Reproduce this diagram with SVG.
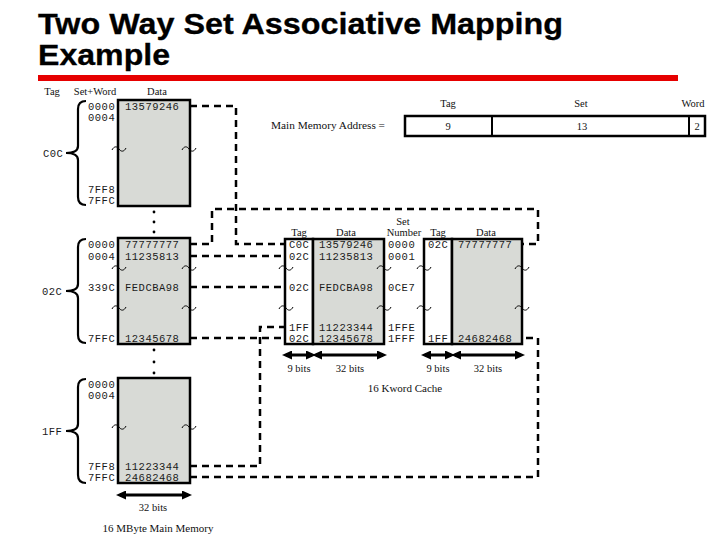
<svg xmlns="http://www.w3.org/2000/svg" width="720" height="540" viewBox="0 0 720 540">
<style>
.title{font-family:"Liberation Sans",Arial,sans-serif;font-weight:bold;font-size:29px;fill:#000;stroke:#000;stroke-width:0.3}
.mono{font-family:"Liberation Mono","Courier New",monospace;font-size:10.5px;letter-spacing:0.5px;fill:#1a1a1a}
.serif{font-family:"Liberation Serif","Times New Roman",serif;font-size:10.5px;fill:#111}
.mid{text-anchor:middle}
.blk{fill:#d8dad6;stroke:#000;stroke-width:2.5}
.tagc{fill:#fff;stroke:#000;stroke-width:2.5}
.dash{fill:none;stroke:#000;stroke-width:2.5;stroke-dasharray:7 5}
.brace{fill:none;stroke:#000;stroke-width:2.2}
.til{fill:none;stroke:#000;stroke-width:1}
.arr{stroke:#000;stroke-width:3;marker-start:url(#ah);marker-end:url(#ah)}
.dot{fill:#000}
</style>
<defs>
<marker id="ah" viewBox="0 0 10 9" refX="6" refY="4.5" markerWidth="10" markerHeight="9" markerUnits="userSpaceOnUse" orient="auto-start-reverse"><path d="M0 0 L10 4.5 L0 9 z" fill="#000"/></marker>
<path id="tl" d="M-7 1 C-5 -3 -2 -3 0 0 S5 3 7 -1"/>
</defs>
<rect width="720" height="540" fill="#fff"/>
<g id="title">
<text class="title" x="38" y="34" textLength="525" lengthAdjust="spacingAndGlyphs">Two Way Set Associative Mapping</text>
<text class="title" x="38" y="65" textLength="132" lengthAdjust="spacingAndGlyphs">Example</text>
<rect x="38" y="75" width="640" height="6" fill="#e60000"/>
</g>
<g id="mm-headers">
<text class="serif mid" x="52" y="95">Tag</text>
<text class="serif mid" x="95" y="95">Set+Word</text>
<text class="serif mid" x="157" y="95">Data</text>
</g>
<g id="mm-block-c0c">
<rect class="blk" x="118" y="100" width="72" height="106"/>
<path class="brace" d="M86 101 Q78 101 78 109 V146 Q78 153 66 153 Q78 153 78 160 V197 Q78 205 86 205"/>
<text class="mono" x="43" y="157">C0C</text>
<text class="mono" x="88" y="109.5">0000</text>
<text class="mono" x="88" y="120.5">0004</text>
<text class="mono" x="88" y="192.5">7FF8</text>
<text class="mono" x="88" y="203.5">7FFC</text>
<text class="mono" x="125" y="109.5">13579246</text>
<use href="#tl" class="til" x="119" y="149"/>
<use href="#tl" class="til" x="189" y="149"/>
</g>
<g id="dots-1">
<circle class="dot" cx="154" cy="212" r="1.4"/>
<circle class="dot" cx="154" cy="222" r="1.4"/>
<circle class="dot" cx="154" cy="232" r="1.4"/>
</g>
<g id="mm-block-02c">
<rect class="blk" x="118" y="238" width="72" height="106"/>
<path class="brace" d="M86 239 Q78 239 78 247 V284 Q78 291 66 291 Q78 291 78 298 V335 Q78 343 86 343"/>
<text class="mono" x="42" y="295">02C</text>
<text class="mono" x="88" y="247.5">0000</text>
<text class="mono" x="88" y="259.5">0004</text>
<text class="mono" x="88" y="290.5">339C</text>
<text class="mono" x="88" y="341.5">7FFC</text>
<text class="mono" x="125" y="247.5">77777777</text>
<text class="mono" x="125" y="259.5">11235813</text>
<text class="mono" x="125" y="290.5">FEDCBA98</text>
<text class="mono" x="125" y="341.5">12345678</text>
<use href="#tl" class="til" x="119" y="268"/>
<use href="#tl" class="til" x="189" y="268"/>
<use href="#tl" class="til" x="119" y="308"/>
<use href="#tl" class="til" x="189" y="308"/>
</g>
<g id="dots-2">
<circle class="dot" cx="154" cy="350" r="1.4"/>
<circle class="dot" cx="154" cy="362" r="1.4"/>
<circle class="dot" cx="154" cy="373" r="1.4"/>
</g>
<g id="mm-block-1ff">
<rect class="blk" x="118" y="378" width="72" height="105"/>
<path class="brace" d="M86 379 Q78 379 78 387 V424 Q78 431 66 431 Q78 431 78 438 V475 Q78 483 86 483"/>
<text class="mono" x="42" y="435">1FF</text>
<text class="mono" x="88" y="387.5">0000</text>
<text class="mono" x="88" y="398.5">0004</text>
<text class="mono" x="88" y="469.5">7FF8</text>
<text class="mono" x="88" y="480.5">7FFC</text>
<text class="mono" x="125" y="469.5">11223344</text>
<text class="mono" x="125" y="480.5">24682468</text>
<use href="#tl" class="til" x="119" y="427"/>
<use href="#tl" class="til" x="189" y="427"/>
</g>
<g id="mm-caption">
<line class="arr" x1="120" y1="495" x2="188" y2="495"/>
<text class="serif mid" x="153" y="511">32 bits</text>
<text class="serif mid" x="158" y="532" style="font-size:11px">16 MByte Main Memory</text>
</g>
<g id="address-format">
<text class="serif" x="271" y="129" style="font-size:11.3px">Main Memory Address =</text>
<text class="serif mid" x="448" y="107">Tag</text>
<text class="serif mid" x="581" y="107">Set</text>
<text class="serif mid" x="693" y="107">Word</text>
<rect x="405" y="116" width="300" height="20" fill="#fff" stroke="#000" stroke-width="2.5"/>
<line x1="492" y1="116" x2="492" y2="136" stroke="#000" stroke-width="2"/>
<line x1="689" y1="116" x2="689" y2="136" stroke="#000" stroke-width="2"/>
<text class="serif mid" x="448" y="130">9</text>
<text class="serif mid" x="582" y="130">13</text>
<text class="serif mid" x="697" y="130">2</text>
</g>
<g id="cache-way0">
<text class="serif mid" x="299" y="236">Tag</text>
<text class="serif mid" x="346" y="236">Data</text>
<rect class="tagc" x="285" y="239" width="28" height="105"/>
<rect class="blk" x="313" y="239" width="71" height="105"/>
<text class="mono" x="289" y="247.5">C0C</text>
<text class="mono" x="289" y="259.5">02C</text>
<text class="mono" x="289" y="290.5">02C</text>
<text class="mono" x="289" y="330.5">1FF</text>
<text class="mono" x="289" y="341.5">02C</text>
<text class="mono" x="319" y="247.5">13579246</text>
<text class="mono" x="319" y="259.5">11235813</text>
<text class="mono" x="319" y="290.5">FEDCBA98</text>
<text class="mono" x="319" y="330.5">11223344</text>
<text class="mono" x="319" y="341.5">12345678</text>
<use href="#tl" class="til" x="286" y="268"/>
<use href="#tl" class="til" x="286" y="308"/>
<use href="#tl" class="til" x="384" y="268"/>
<use href="#tl" class="til" x="384" y="308"/>
<line class="arr" x1="286" y1="355" x2="312" y2="355"/>
<line class="arr" x1="316" y1="355" x2="383" y2="355"/>
<text class="serif mid" x="299" y="372">9 bits</text>
<text class="serif mid" x="350" y="372">32 bits</text>
</g>
<g id="set-number">
<text class="serif mid" x="403" y="225">Set</text>
<text class="serif mid" x="404" y="236">Number</text>
<text class="mono" x="388" y="247.5">0000</text>
<text class="mono" x="388" y="259.5">0001</text>
<text class="mono" x="388" y="290.5">0CE7</text>
<text class="mono" x="388" y="330.5">1FFE</text>
<text class="mono" x="388" y="341.5">1FFF</text>
</g>
<g id="cache-way1">
<text class="serif mid" x="438" y="236">Tag</text>
<text class="serif mid" x="486" y="236">Data</text>
<rect class="tagc" x="424" y="239" width="28" height="105"/>
<rect class="blk" x="452" y="239" width="70" height="105"/>
<text class="mono" x="428" y="247.5">02C</text>
<text class="mono" x="428" y="341.5">1FF</text>
<text class="mono" x="458" y="247.5">77777777</text>
<text class="mono" x="458" y="341.5">24682468</text>
<use href="#tl" class="til" x="424" y="268"/>
<use href="#tl" class="til" x="424" y="308"/>
<use href="#tl" class="til" x="522" y="268"/>
<use href="#tl" class="til" x="522" y="308"/>
<line class="arr" x1="425" y1="355" x2="451" y2="355"/>
<line class="arr" x1="455" y1="355" x2="521" y2="355"/>
<text class="serif mid" x="438" y="372">9 bits</text>
<text class="serif mid" x="488" y="372">32 bits</text>
</g>
<text class="serif mid" x="405" y="392" style="font-size:11px">16 Kword Cache</text>
<g id="connectors">
<path class="dash" d="M190 106 H236 V244 H285"/>
<path class="dash" d="M190 244 H212 V209 H538 V244 H522"/>
<path class="dash" d="M190 256 H285"/>
<path class="dash" d="M190 287 H285"/>
<path class="dash" d="M190 338 H285"/>
<path class="dash" d="M190 466 H260 V327 H285"/>
<path class="dash" d="M190 477 H538 V338 H522"/>
</g>
</svg>
